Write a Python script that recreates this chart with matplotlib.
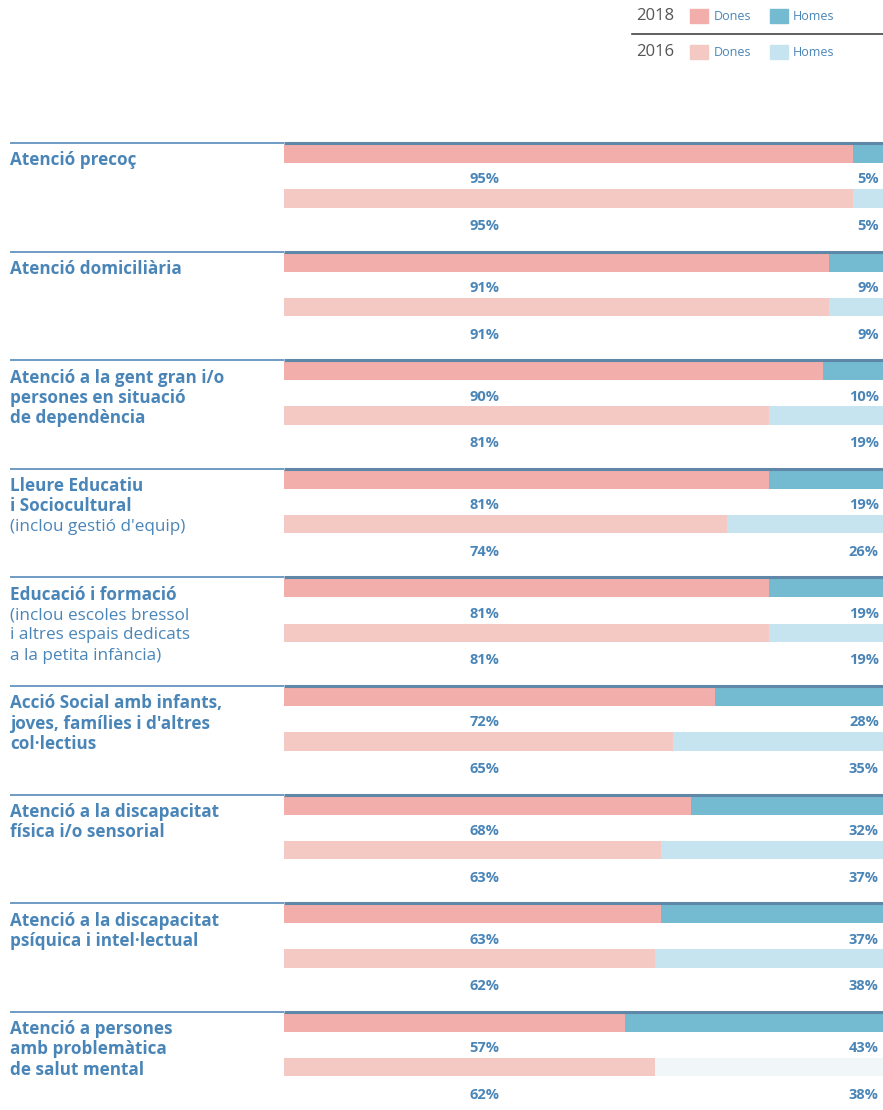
import matplotlib.pyplot as plt
from matplotlib.patches import Rectangle

plt.rcParams['font.family'] = ['Open Sans', 'DejaVu Sans']

# category labels: bold lines, then regular lines
label_bold = [
    ["Atenció precoç"],
    ["Atenció domiciliària"],
    ["Atenció a la gent gran i/o", "persones en situació", "de dependència"],
    ["Lleure Educatiu", "i Sociocultural"],
    ["Educació i formació"],
    ["Acció Social amb infants,", "joves, famílies i d'altres", "col·lectius"],
    ["Atenció a la discapacitat", "física i/o sensorial"],
    ["Atenció a la discapacitat", "psíquica i intel·lectual"],
    ["Atenció a persones", "amb problemàtica", "de salut mental"],
]
label_regular = [
    [],
    [],
    [],
    ["(inclou gestió d'equip)"],
    ["(inclou escoles bressol", "i altres espais dedicats", "a la petita infància)"],
    [],
    [],
    [],
    [],
]

dones_2018 = [95, 91, 90, 81, 81, 72, 68, 63, 57]
homes_2018 = [5, 9, 10, 19, 19, 28, 32, 37, 43]
dones_2016 = [95, 91, 81, 74, 81, 65, 63, 62, 62]
homes_2016 = [5, 9, 19, 26, 19, 35, 37, 38, 38]

c_d18 = '#f1aeaa'
c_h18 = '#74bad0'
c_d16 = '#f4c8c3'
c_h16 = '#c6e3f0'
c_h16_last = '#f1f6f9'
txt = '#4a85b8'

fig = plt.figure(figsize=(8.83, 11.10), dpi=100)
W, H = 883, 1110
x0, top = 284, 143
sec_h = 108.6
n_units = (H - top) / sec_h
ax = fig.add_axes([x0 / W, 0, (W - x0) / W, (H - top) / H])
ax.set_xlim(0, 100)
ax.set_ylim(n_units, 0)
ax.axis('off')

left = -(x0 - 10) / ((W - x0) / 100)
bh = 0.17
for i in range(len(dones_2018)):
    y18 = i + 0.10
    y16 = i + 0.51
    ax.barh(y18, dones_2018[i], height=bh, color=c_d18, align='center')
    ax.barh(y18, homes_2018[i], left=dones_2018[i], height=bh, color=c_h18, align='center')
    ax.barh(y16, dones_2016[i], height=bh, color=c_d16, align='center')
    hc = c_h16_last if i == len(dones_2018) - 1 else c_h16
    ax.barh(y16, homes_2016[i], left=dones_2016[i], height=bh, color=hc, align='center')

    # separators
    ax.plot([0, 100], [i, i], color='#5f87a8', lw=2.2, clip_on=False, solid_capstyle='butt')
    ax.plot([left, 0], [i, i], color='#6f9cc4', lw=1.4, clip_on=False, solid_capstyle='butt')

    # percentages
    for yy, d, h in [(i + 0.335, dones_2018[i], homes_2018[i]),
                     (i + 0.765, dones_2016[i], homes_2016[i])]:
        ax.text(33.5, yy, f"{d}%", ha='center', va='center', fontsize=10.5,
                color=txt, fontweight='bold')
        ax.text(99.3, yy, f"{h}%", ha='right', va='center', fontsize=10.5,
                color=txt, fontweight='bold')

    # category label
    ly = i + 0.16
    for line in label_bold[i]:
        ax.text(left, ly, line, ha='left', va='center', fontsize=12.3,
                color=txt, fontweight='bold', clip_on=False)
        ly += 0.187
    for line in label_regular[i]:
        ax.text(left, ly, line, ha='left', va='center', fontsize=12.3,
                color=txt, clip_on=False)
        ly += 0.187

# legend block, top right
legend_rows = [("2018", 16, c_d18, c_h18), ("2016", 52, c_d16, c_h16)]
for year, py, cd, ch in legend_rows:
    yf = 1 - py / H
    fig.text(636 / W, yf, year, ha='left', va='center', fontsize=12, color='#555555')
    fig.patches.append(Rectangle((690 / W, yf - 7 / H), 18 / W, 14 / H,
                                 transform=fig.transFigure, color=cd))
    fig.text(714 / W, yf, "Dones", ha='left', va='center', fontsize=9, color=txt)
    fig.patches.append(Rectangle((770 / W, yf - 7 / H), 18 / W, 14 / H,
                                 transform=fig.transFigure, color=ch))
    fig.text(793 / W, yf, "Homes", ha='left', va='center', fontsize=9, color=txt)
fig.add_artist(plt.Line2D([632 / W, 1], [1 - 34 / H, 1 - 34 / H],
                          transform=fig.transFigure, color='#444444', lw=1.2))

fig.savefig('out.png', dpi=100, facecolor='white')
